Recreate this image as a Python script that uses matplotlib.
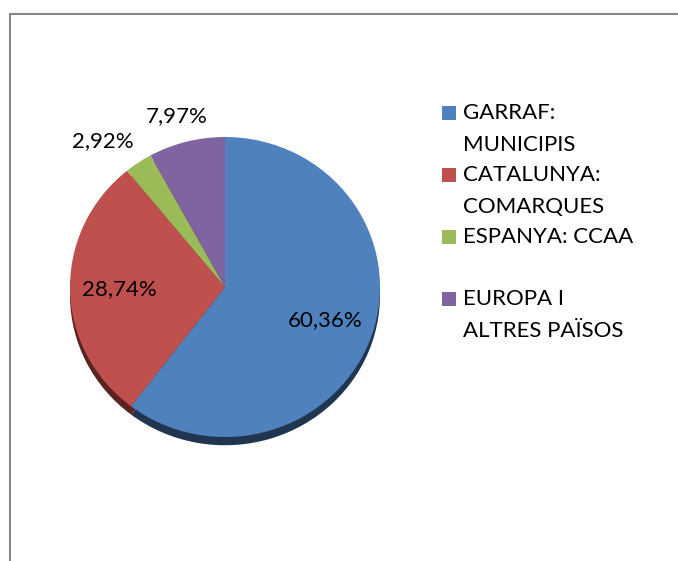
import matplotlib.pyplot as plt
from matplotlib.lines import Line2D
from matplotlib.patches import Rectangle
import numpy as np

labels = ["GARRAF:\nMUNICIPIS", "CATALUNYA:\nCOMARQUES", "ESPANYA: CCAA", "EUROPA I\nALTRES PAÏSOS"]
values = [60.36, 28.74, 2.92, 7.97]
pct_text = ["60,36%", "28,74%", "2,92%", "7,97%"]
colors = ["#4F81BD", "#C0504D", "#9BBB59", "#8064A2"]
dark = ["#1F3550", "#5A2321", "#4A5A2A", "#3C2F4D"]
label_dist = [0.68, 0.68, 1.25, 1.18]
label_turn = [0, 0, 5, 1]  # degrees, small nudges for the outside labels

plt.rcParams["font.family"] = ["Lato", "DejaVu Sans"]

W, H = 678, 561
fig = plt.figure(figsize=(W / 100, H / 100), dpi=100)

# pie axes, slightly wider than tall like the original
cx, cy, rx, ry = 225, 287, 155, 150
ax = fig.add_axes([(cx - rx) / W, (H - cy - ry) / H, 2 * rx / W, 2 * ry / H])
ax.pie(values, colors=dark, startangle=90, counterclock=False,
       center=(0, -0.055), wedgeprops=dict(linewidth=0))
wedges, _ = ax.pie(values, colors=colors, startangle=90, counterclock=False,
                   wedgeprops=dict(linewidth=0))
ax.set_aspect("auto")
ax.set_xlim(-1, 1)
ax.set_ylim(-1, 1)
ax.axis("off")
for w in ax.patches:
    w.set_clip_on(False)

for w, txt, d, t in zip(wedges, pct_text, label_dist, label_turn):
    ang = np.deg2rad((w.theta1 + w.theta2) / 2 + t)
    ax.text(d * np.cos(ang), d * np.sin(ang), txt, ha="center", va="center",
            fontsize=16, color="black", clip_on=False)

# legend drawn by hand (marker sits on the first line of each entry)
row_y = [113, 175, 237, 299]
for y, lab, c in zip(row_y, labels, colors):
    fig.add_artist(Rectangle(((442) / W, (H - y - 7) / H), 14 / W, 14 / H,
                             transform=fig.transFigure, color=c, lw=0))
    fig.text(463 / W, (H - y) / H, lab.split("\n")[0], ha="left", va="center", fontsize=16)
    if "\n" in lab:
        fig.text(463 / W, (H - y - 32) / H, lab.split("\n")[1], ha="left", va="center", fontsize=16)

# chart frame (only top and left edges visible)
fig.add_artist(Line2D([10 / W, 1], [(H - 13.5) / H] * 2, color="#868686", lw=1.5,
                      transform=fig.transFigure))
fig.add_artist(Line2D([10 / W] * 2, [0, (H - 13.5) / H], color="#868686", lw=1.5,
                      transform=fig.transFigure))

fig.savefig("out.png", dpi=100)
